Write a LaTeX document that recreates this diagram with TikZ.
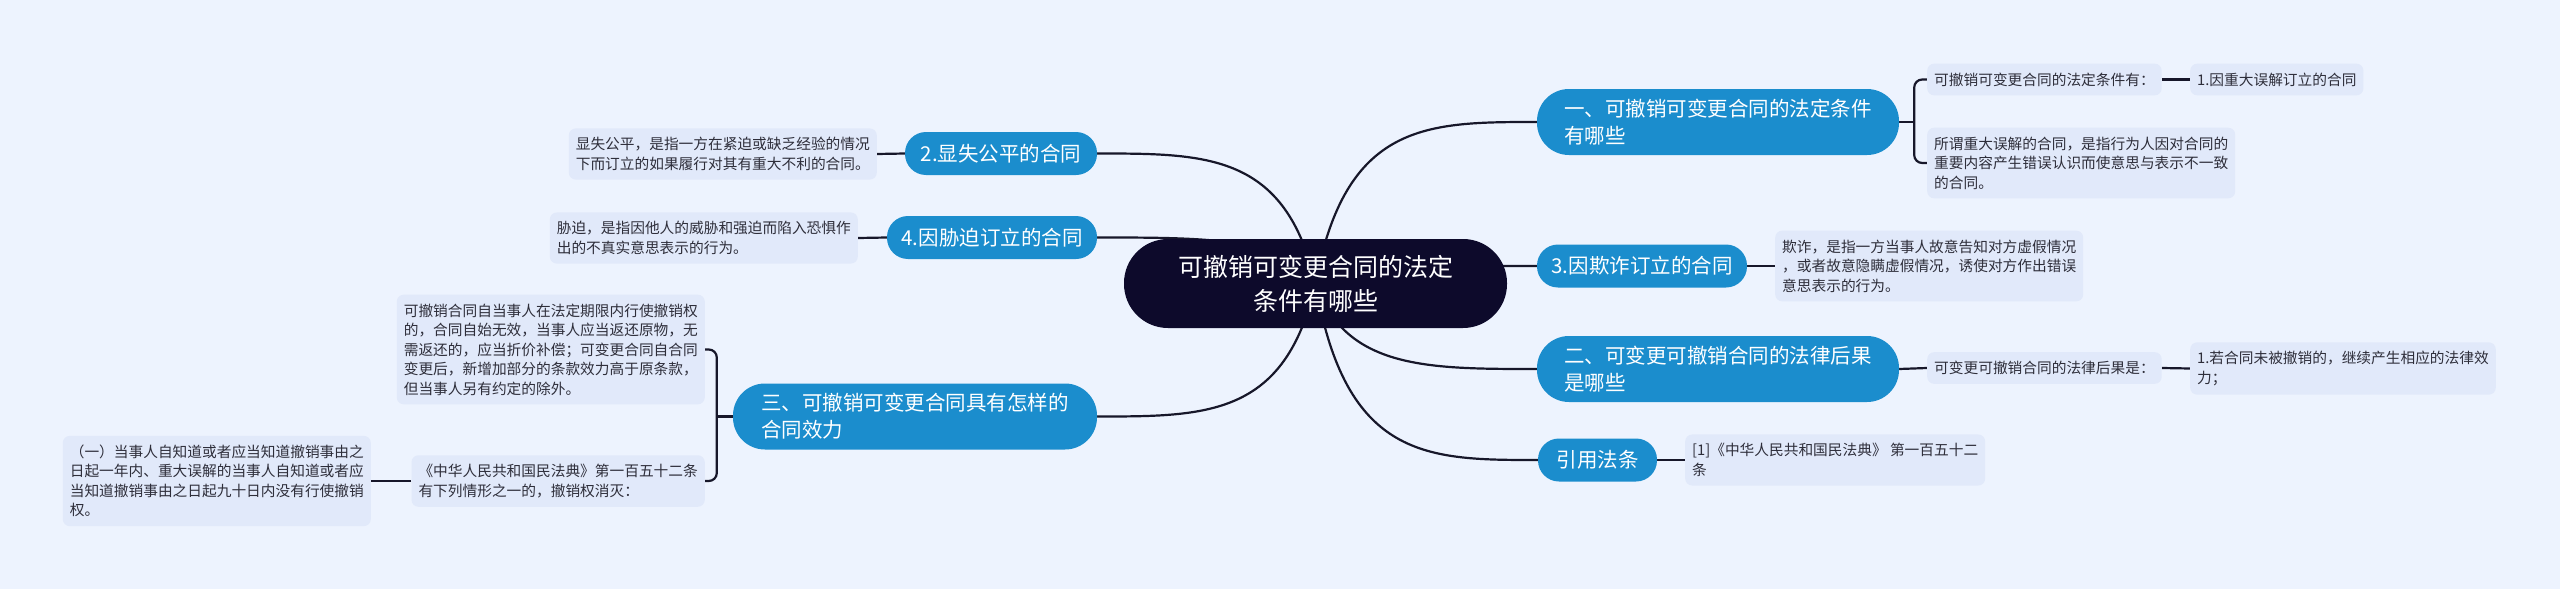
\documentclass[tikz,border=0pt]{standalone}
\usepackage{fontspec}
\setmainfont{Noto Sans CJK SC}
\usetikzlibrary{positioning,calc}
\usepackage{xcolor}

\definecolor{pagebg}{HTML}{EDF3FE}
\definecolor{rootnavy}{HTML}{0D0A2B}
\definecolor{topicblue}{HTML}{1B8DCD}
\definecolor{leafbg}{HTML}{E1E9FA}
\definecolor{leaftext}{HTML}{2E2E3A}
\definecolor{wire}{HTML}{17172A}

\newcommand{\rootfont}{\fontsize{25}{34}\selectfont}
\newcommand{\topicfont}{\fontsize{20.5}{27}\selectfont}
\newcommand{\leaffont}{\fontsize{14.7}{19.5}\selectfont}

\pgfdeclarelayer{bg}
\pgfdeclarelayer{wires}
\pgfsetlayers{bg,wires,main}

\begin{document}
\begin{tikzpicture}[x=1pt, y=-1pt,
  root/.style={fill=rootnavy, text=white, font=\rootfont, align=center, rounded corners=44pt, minimum width=383pt, minimum height=89pt, inner sep=0pt},
  topic/.style={fill=topicblue, text=white, font=\topicfont, align=left, rounded corners=21pt, minimum height=43pt, inner sep=0pt},
  topic2/.style={topic, rounded corners=32pt, minimum width=362pt, minimum height=66pt},
  leaf/.style={fill=leafbg, text=leaftext, font=\leaffont, align=left, rounded corners=7pt, inner xsep=7pt, inner ysep=9pt},
  link/.style={draw=wire, line width=2.2pt},
  rbranch/.style={to path={.. controls ([xshift=30pt]\tikztostart |- \tikztotarget) and ([xshift=-110pt]\tikztotarget) .. (\tikztotarget)}},
  lbranch/.style={to path={.. controls ([xshift=-30pt]\tikztostart |- \tikztotarget) and ([xshift=110pt]\tikztotarget) .. (\tikztotarget)}}
]
\begin{pgfonlayer}{bg}
  \fill[pagebg] (0,0) rectangle (2560,589);
\end{pgfonlayer}
\useasboundingbox (0,0) rectangle (2560,589);

% centre
\node[root] (root) at (1315.5,283.5) {可撤销可变更合同的法定\\条件有哪些};

% right branches
\node[topic2] (R1) at (1718,122) {一、可撤销可变更合同的法定条件\\有哪些};
\node[topic, minimum width=210pt] (R2) at (1642,266) {3.因欺诈订立的合同};
\node[topic2] (R3) at (1718,369) {二、可变更可撤销合同的法律后果\\是哪些};
\node[topic, minimum width=119pt] (R4) at (1597.5,460) {引用法条};

\node[leaf, anchor=west] (a1) at (1927,79.5) {可撤销可变更合同的法定条件有：};
\node[leaf, anchor=west] (a2) at (2190,79.5) {1.因重大误解订立的合同};
\node[leaf, anchor=west] (a3) at (1927,163) {所谓重大误解的合同，是指行为人因对合同的\\重要内容产生错误认识而使意思与表示不一致\\的合同。};
\node[leaf, anchor=west] (b1) at (1775,266) {欺诈，是指一方当事人故意告知对方虚假情况\\，或者故意隐瞒虚假情况，诱使对方作出错误\\意思表示的行为。};
\node[leaf, anchor=west] (c1) at (1927,368) {可变更可撤销合同的法律后果是：};
\node[leaf, anchor=west] (c2) at (2190,368.5) {1.若合同未被撤销的，继续产生相应的法律效\\力；};
\node[leaf, anchor=west] (d1) at (1685,460) {[1]《中华人民共和国民法典》 第一百五十二\\条};

% left branches
\node[topic, minimum width=192pt] (L1) at (1001,153.5) {2.显失公平的合同};
\node[topic, minimum width=210pt] (L2) at (992,237.5) {4.因胁迫订立的合同};
\node[topic2, minimum width=364pt] (L3) at (915,416.5) {三、可撤销可变更合同具有怎样的\\合同效力};

\node[leaf, anchor=east] (e1) at (877,154) {显失公平，是指一方在紧迫或缺乏经验的情况\\下而订立的如果履行对其有重大不利的合同。};
\node[leaf, anchor=east] (f1) at (858,238) {胁迫，是指因他人的威胁和强迫而陷入恐惧作\\出的不真实意思表示的行为。};
\node[leaf, anchor=east] (g1) at (705,349.5) {可撤销合同自当事人在法定期限内行使撤销权\\的，合同自始无效，当事人应当返还原物，无\\需返还的，应当折价补偿；可变更合同自合同\\变更后，新增加部分的条款效力高于原条款，\\但当事人另有约定的除外。};
\node[leaf, anchor=east] (g2) at (705,481) {《中华人民共和国民法典》第一百五十二条\\有下列情形之一的，撤销权消灭：};
\node[leaf, anchor=east] (h1) at (371,481) {（一）当事人自知道或者应当知道撤销事由之\\日起一年内、重大误解的当事人自知道或者应\\当知道撤销事由之日起九十日内没有行使撤销\\权。};

\coordinate (r1j) at ([xshift=15pt]R1.east);
\coordinate (l3j) at ([xshift=-16pt]L3.west);

\begin{pgfonlayer}{wires}
  \draw[link] (root.center) to[rbranch] (R1.west);
  \draw[link] (root.center) to[rbranch] (R2.west);
  \draw[link] (root.center) to[rbranch] (R3.west);
  \draw[link] (root.center) to[rbranch] (R4.west);
  \draw[link] (root.center) to[lbranch] (L1.east);
  \draw[link] (root.center) to[lbranch] (L2.east);
  \draw[link] (root.center) to[lbranch] (L3.east);

  \draw[link] (R1.east) -- (r1j);
  \draw[link, rounded corners=8pt] (a1.west) -| (r1j) |- (a3.west);
  \draw[link] (a1.east) -- (a2.west);
  \draw[link] (R2.east) -- (b1.west);
  \draw[link] (R3.east) -- (c1.west);
  \draw[link] (c1.east) -- (c2.west);
  \draw[link] (R4.east) -- (d1.west);

  \draw[link] (L1.west) -- (e1.east);
  \draw[link] (L2.west) -- (f1.east);
  \draw[link] (L3.west) -- (l3j);
  \draw[link, rounded corners=8pt] (g1.east) -| (l3j) |- (g2.east);
  \draw[link] (g2.west) -- (h1.east);
\end{pgfonlayer}
\end{tikzpicture}
\end{document}
